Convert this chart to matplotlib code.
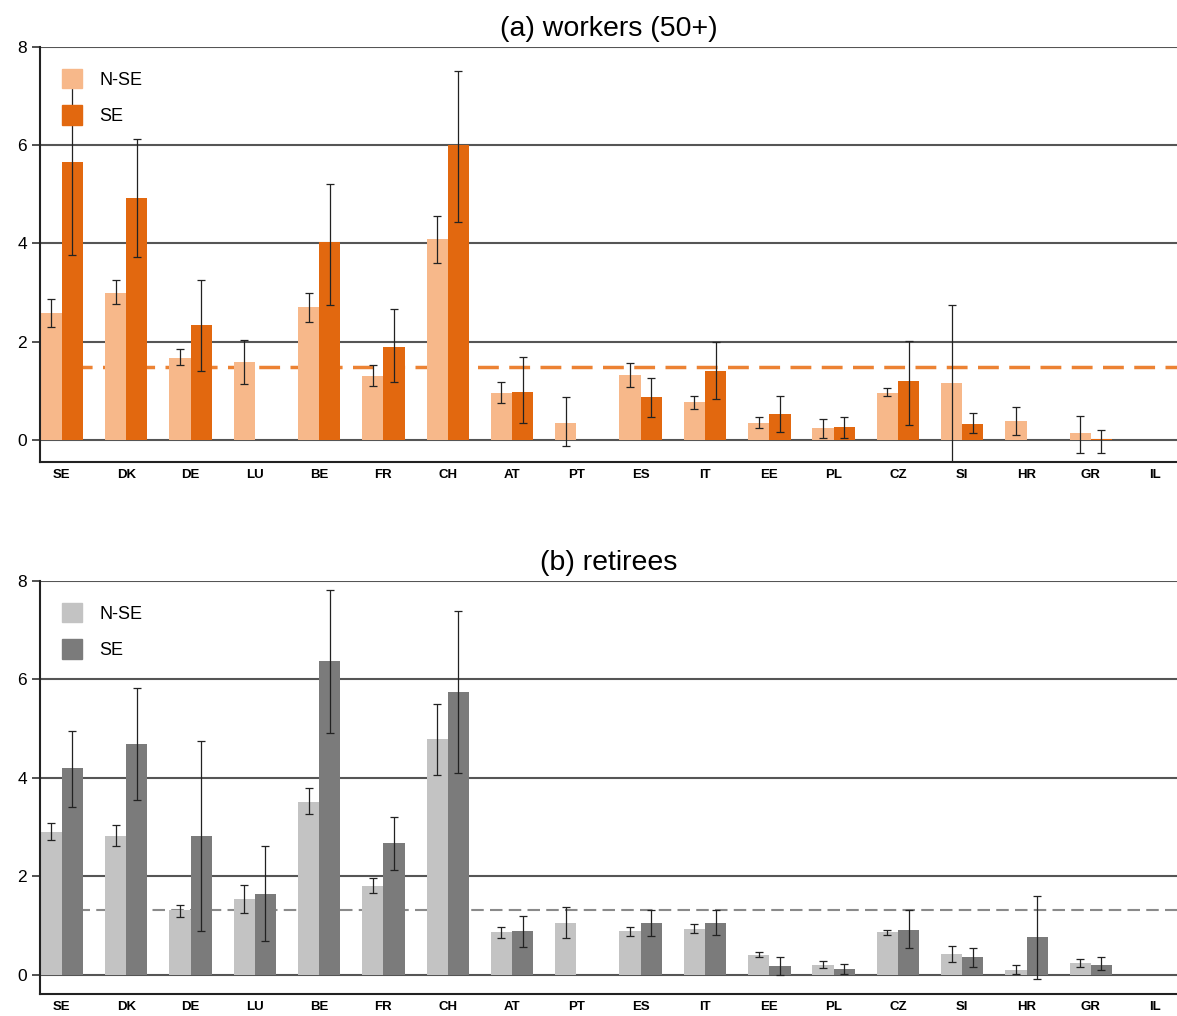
import numpy as np
import matplotlib.pyplot as plt
from matplotlib.patches import Patch

plt.rcParams['font.family'] = ['Liberation Sans', 'DejaVu Sans']

countries = ['SE', 'DK', 'DE', 'LU', 'BE', 'FR', 'CH', 'AT', 'PT', 'ES', 'IT',
             'EE', 'PL', 'CZ', 'SI', 'HR', 'GR', 'IL']
nan = np.nan

# (a) workers (50+)
w_nse = [2.59, 2.99, 1.67, 1.58, 2.71, 1.30, 4.09, 0.96, 0.35, 1.32, 0.78,
         0.35, 0.24, 0.96, 1.16, 0.39, 0.14, nan]
w_nse_lo = [2.30, 2.77, 1.53, 1.14, 2.41, 1.10, 3.60, 0.75, -0.12, 1.08, 0.63,
            0.24, 0.04, 0.90, -0.60, 0.10, -0.27, nan]
w_nse_hi = [2.87, 3.26, 1.85, 2.04, 2.99, 1.53, 4.55, 1.18, 0.87, 1.57, 0.90,
            0.47, 0.42, 1.06, 2.75, 0.67, 0.49, nan]
w_se = [5.66, 4.93, 2.33, nan, 4.02, 1.90, 6.00, 0.98, nan, 0.87, 1.41,
        0.53, 0.27, 1.19, 0.33, nan, 0.02, nan]
w_se_lo = [3.77, 3.73, 1.41, nan, 2.75, 1.17, 4.43, 0.35, nan, 0.47, 0.83,
           0.16, 0.04, 0.31, 0.14, nan, -0.27, nan]
w_se_hi = [7.20, 6.13, 3.26, nan, 5.22, 2.66, 7.52, 1.69, nan, 1.26, 2.00,
           0.90, 0.47, 2.02, 0.55, nan, 0.20, nan]
w_avg = 1.49

# (b) retirees
r_nse = [2.91, 2.81, 1.32, 1.54, 3.52, 1.81, 4.79, 0.86, 1.06, 0.88, 0.93,
         0.41, 0.20, 0.86, 0.43, 0.10, 0.24, nan]
r_nse_lo = [2.74, 2.61, 1.17, 1.25, 3.27, 1.67, 4.06, 0.74, 0.74, 0.79, 0.85,
            0.37, 0.14, 0.81, 0.25, 0.01, 0.16, nan]
r_nse_hi = [3.08, 3.05, 1.41, 1.83, 3.79, 1.96, 5.50, 0.97, 1.37, 0.97, 1.03,
            0.46, 0.27, 0.90, 0.59, 0.19, 0.32, nan]
r_se = [4.20, 4.69, 2.82, 1.64, 6.38, 2.67, 5.75, 0.88, nan, 1.06, 1.06,
        0.17, 0.12, 0.91, 0.37, 0.76, 0.20, nan]
r_se_lo = [3.40, 3.55, 0.88, 0.68, 4.92, 2.13, 4.09, 0.56, nan, 0.78, 0.80,
           0.00, 0.02, 0.54, 0.15, -0.09, 0.10, nan]
r_se_hi = [4.96, 5.82, 4.76, 2.62, 7.82, 3.20, 7.39, 1.20, nan, 1.32, 1.31,
           0.36, 0.22, 1.32, 0.54, 1.60, 0.36, nan]
r_avg = 1.32


def panel(ax, title, nse, nse_lo, nse_hi, se, se_lo, se_hi, avg,
          c_light, c_dark, c_avg, avg_lw, ybottom):
    x = np.arange(len(countries))
    w = 0.33
    nse = np.array(nse); se = np.array(se)
    for vals, lo, hi, off, col in [(nse, nse_lo, nse_hi, -w / 2, c_light),
                                   (se, se_lo, se_hi, w / 2, c_dark)]:
        lo = np.array(lo); hi = np.array(hi)
        ax.bar(x + off, vals, width=w, color=col, zorder=2)
        err = np.vstack([vals - lo, hi - vals])
        ax.errorbar(x + off, vals, yerr=err, fmt='none', ecolor='#222222',
                    elinewidth=0.9, capsize=3, capthick=0.9, zorder=3)

    ax.axhline(avg, color=c_avg, lw=avg_lw, ls=(0, (6, 3)), zorder=1)
    for g in [0, 2, 4, 6, 8]:
        ax.axhline(g, color='#555555', lw=1.5, zorder=0.5)

    ax.set_xlim(-0.34, len(countries) - 1 + 0.34)
    ax.set_ylim(ybottom, 8)
    ax.set_yticks([0, 2, 4, 6, 8])
    ax.set_xticks(x)
    ax.set_xticklabels(countries, fontsize=9.5, fontweight='bold')
    ax.tick_params(axis='x', length=0, pad=5)
    ax.tick_params(axis='y', labelsize=12.5, length=6, width=1.2, color='#333333')
    for s in ['top', 'right']:
        ax.spines[s].set_visible(False)
    for s in ['left', 'bottom']:
        ax.spines[s].set_color('#222222')
        ax.spines[s].set_linewidth(1.5)
    ax.set_title(title, fontsize=20.5, pad=8)
    handles = [Patch(color=c_light, label='N-SE'), Patch(color=c_dark, label='SE')]
    ax.legend(handles=handles, loc='upper left', frameon=False, fontsize=13,
              handlelength=1.1, handleheight=1.3, labelspacing=0.9,
              handletextpad=1.0, borderaxespad=0.8)


fig = plt.figure(figsize=(11.77, 10.16), dpi=100)
ax1 = fig.add_axes([0.034, 0.5453, 0.966, 0.4084])
ax2 = fig.add_axes([0.034, 0.0217, 0.966, 0.4064])

panel(ax1, '(a) workers (50+)', w_nse, w_nse_lo, w_nse_hi, w_se, w_se_lo, w_se_hi,
      w_avg, '#f7b88a', '#e2680f', '#ec8233', 2.5, -0.45)
panel(ax2, '(b) retirees', r_nse, r_nse_lo, r_nse_hi, r_se, r_se_lo, r_se_hi,
      r_avg, '#c3c3c3', '#7b7b7b', '#8a8a8a', 1.5, -0.39)

fig.savefig('out.png', dpi=100)
